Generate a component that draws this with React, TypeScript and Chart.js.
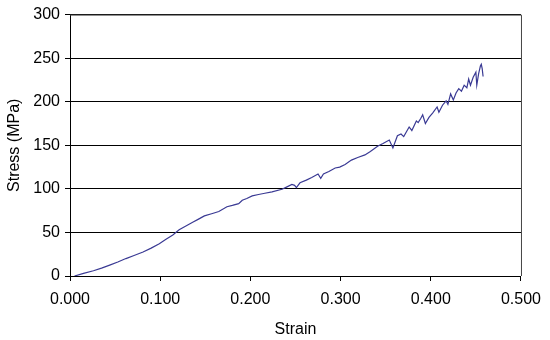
import React, { useEffect, useRef } from "react";
import { Chart, registerables } from "chart.js";

Chart.register(...registerables);

// Strain values (x)
const strain: number[] = [
  0.005, 0.015, 0.026, 0.035, 0.044, 0.053, 0.062, 0.071, 0.081, 0.09,
  0.099, 0.106, 0.114, 0.121, 0.128, 0.136, 0.142, 0.149, 0.157, 0.165,
  0.174, 0.18, 0.187, 0.191, 0.196, 0.202, 0.209, 0.216, 0.224, 0.235,
  0.24, 0.246, 0.249, 0.251, 0.255, 0.262, 0.268, 0.275, 0.278, 0.281,
  0.287, 0.294, 0.299, 0.305, 0.312, 0.319, 0.327, 0.333, 0.341, 0.347,
  0.354, 0.358, 0.363, 0.367, 0.37, 0.376, 0.379, 0.384, 0.386, 0.389,
  0.391, 0.394, 0.398, 0.402, 0.407, 0.409, 0.413, 0.417, 0.419, 0.422,
  0.425, 0.428, 0.431, 0.434, 0.437, 0.44, 0.442, 0.444, 0.447, 0.45,
  0.451, 0.453, 0.455, 0.456, 0.457, 0.458,
];

// Stress values (MPa)
const stress: number[] = [
  0, 3, 6, 9, 12.5, 16, 20, 23.5, 27.6, 32,
  37, 42, 47, 53, 57, 61.7, 65, 69, 71.5, 74,
  79.5, 81, 83, 87, 89, 92, 93.5, 95, 96.6, 99.6,
  102, 105, 104, 101.5, 107, 110, 113, 117, 112, 117,
  120, 124, 125, 128, 133, 136, 139, 143, 149, 152,
  156, 147, 161, 163, 160, 171, 167, 178, 176, 181,
  185, 175, 182, 187, 194, 188, 196, 201, 197, 209,
  202, 210, 215, 212, 219, 216, 226, 219, 228, 234,
  219, 232, 241, 243, 238, 229,
];

const xTitle = "Strain";
const yTitle = "Stress (MPa)";

const FONT = "'Liberation Sans', Arial, sans-serif";

const framePlugin = {
  id: "frame",
  afterDraw(chart: any) {
    const { ctx, chartArea } = chart;
    ctx.save();
    ctx.strokeStyle = "#444444";
    ctx.lineWidth = 1;
    ctx.beginPath();
    ctx.moveTo(chartArea.left, chartArea.top + 0.5);
    ctx.lineTo(chartArea.right + 0.5, chartArea.top + 0.5);
    ctx.lineTo(chartArea.right + 0.5, chartArea.bottom);
    ctx.stroke();
    ctx.restore();
  },
};

export default function App() {
  const ref = useRef<HTMLCanvasElement | null>(null);

  useEffect(() => {
    if (!ref.current) return;
    const data = strain.map((x, i) => ({ x, y: stress[i] }));
    const chart = new Chart(ref.current, {
      type: "scatter",
      data: {
        datasets: [
          {
            data,
            showLine: true,
            borderColor: "#3a3a94",
            borderWidth: 1.2,
            pointRadius: 0,
            tension: 0,
          },
        ],
      },
      options: {
        responsive: false,
        animation: false,
        layout: { padding: { top: 12, right: 25, left: 0, bottom: 0 } },
        plugins: { legend: { display: false }, tooltip: { enabled: false } },
        scales: {
          x: {
            type: "linear",
            min: 0,
            max: 0.5,
            afterFit: (s: any) => {
              s.height = 64;
            },
            ticks: {
              stepSize: 0.1,
              color: "#000",
              font: { family: FONT, size: 16 },
              padding: 9,
              maxRotation: 0,
              callback: (v: any) => Number(v).toFixed(3),
            },
            grid: {
              drawOnChartArea: false,
              drawTicks: true,
              tickLength: 5,
              color: "#000",
            },
            border: { display: true, color: "#000", width: 1 },
            title: {
              display: true,
              text: xTitle,
              color: "#000",
              font: { family: FONT, size: 16 },
              padding: { top: 0, bottom: 1 },
            },
          },
          y: {
            min: 0,
            max: 300,
            afterFit: (s: any) => {
              s.width = 70;
            },
            ticks: {
              stepSize: 50,
              color: "#000",
              font: { family: FONT, size: 16 },
              padding: 5,
            },
            grid: {
              drawTicks: true,
              tickLength: 5,
              color: "#000",
            },
            border: { display: true, color: "#000", width: 1 },
            title: {
              display: true,
              text: yTitle,
              color: "#000",
              font: { family: FONT, size: 16 },
              padding: { top: 5, bottom: 0 },
            },
          },
        },
      },
      plugins: [framePlugin],
    });
    return () => chart.destroy();
  }, []);

  return (
    <div style={{ position: "absolute", left: 0, top: 0, width: 550, height: 340, background: "#fff" }}>
      <canvas ref={ref} width={550} height={340} />
    </div>
  );
}
